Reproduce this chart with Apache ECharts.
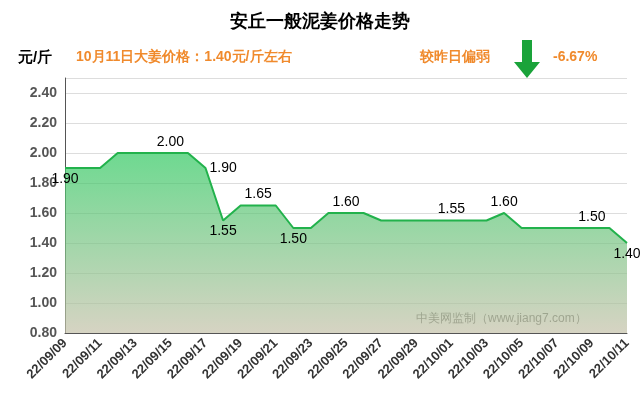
<!DOCTYPE html>
<html><head><meta charset="utf-8">
<script src="https://cdn.jsdelivr.net/npm/echarts@6/dist/echarts.min.js"></script>
<style>body{margin:0}#c{width:640px;height:410px}</style></head>
<body><div id="c"></div>
<script>
const dates = ['22/09/09','22/09/10','22/09/11','22/09/12','22/09/13','22/09/14','22/09/15','22/09/16','22/09/17','22/09/18','22/09/19','22/09/20','22/09/21','22/09/22','22/09/23','22/09/24','22/09/25','22/09/26','22/09/27','22/09/28','22/09/29','22/09/30','22/10/01','22/10/02','22/10/03','22/10/04','22/10/05','22/10/06','22/10/07','22/10/08','22/10/09','22/10/10','22/10/11'];
const prices = [1.90,1.90,1.90,2.00,2.00,2.00,2.00,2.00,1.90,1.55,1.65,1.65,1.65,1.50,1.50,1.60,1.60,1.60,1.55,1.55,1.55,1.55,1.55,1.55,1.55,1.60,1.50,1.50,1.50,1.50,1.50,1.50,1.40];
// index -> label position
const labelAt = {0:'bottom',6:'top',8:'right',9:'bottom',11:'top',13:'bottom',16:'top',22:'top',25:'top',30:'top',32:'bottom'};

const data = prices.map((v, i) => labelAt[i] ? {value: v, label: {show: true, position: labelAt[i], distance: 4}} : v);
const chart = echarts.init(document.getElementById('c'));
chart.setOption({
  title: {text: '安丘一般泥姜价格走势', left: 'center', top: 8, textStyle: {fontSize: 18, fontWeight: 'bold', color: '#000'}},
  grid: {left: 65, right: 13, top: 78, bottom: 77},
  xAxis: {type: 'category', data: dates, boundaryGap: false,
    axisLabel: {interval: 1, rotate: 45, fontSize: 13, fontWeight: 'bold', color: '#333', margin: 8},
    axisLine: {lineStyle: {color: '#555'}}, axisTick: {show: false}},
  yAxis: {type: 'value', min: 0.8, max: 2.5, interval: 0.2,
    axisLabel: {formatter: v => v.toFixed(2), fontSize: 14, fontWeight: 'bold', color: '#555', showMaxLabel: false},
    axisLine: {show: true, lineStyle: {color: '#555'}},
    splitLine: {lineStyle: {color: '#ddd'}}},
  series: [{type: 'line', data: data, symbol: 'circle', symbolSize: 0, showSymbol: true,
    lineStyle: {color: '#22b24c', width: 2},
    label: {show: false, fontSize: 14, color: '#000', formatter: p => p.value.toFixed(2)},
    areaStyle: {color: new echarts.graphic.LinearGradient(0, 0, 0, 1, [{offset: 0, color: '#2fc860'}, {offset: 1, color: '#c4c0a8'}])}}],
  graphic: [
    {type: 'text', left: 18, top: 50, style: {text: '元/斤', fontSize: 15, fontWeight: 'bold', fill: '#000'}},
    {type: 'text', left: 76, top: 50, style: {text: '10月11日大姜价格：1.40元/斤左右', fontSize: 14, fontWeight: 'bold', fill: '#f08a2c'}},
    {type: 'text', left: 420, top: 50, style: {text: '较昨日偏弱', fontSize: 14, fontWeight: 'bold', fill: '#f08a2c'}},
    {type: 'polygon', shape: {points: [[522,40],[532,40],[532,62],[540,62],[527,78],[514,62],[522,62]]}, style: {fill: '#1aa33a'}},
    {type: 'text', left: 553, top: 50, style: {text: '-6.67%', fontSize: 14, fontWeight: 'bold', fill: '#f08a2c'}},
    {type: 'text', left: 416, top: 313, style: {text: '中美网监制（www.jiang7.com）', fontSize: 12, fill: '#666'}}
  ]
});
</script></body></html>
